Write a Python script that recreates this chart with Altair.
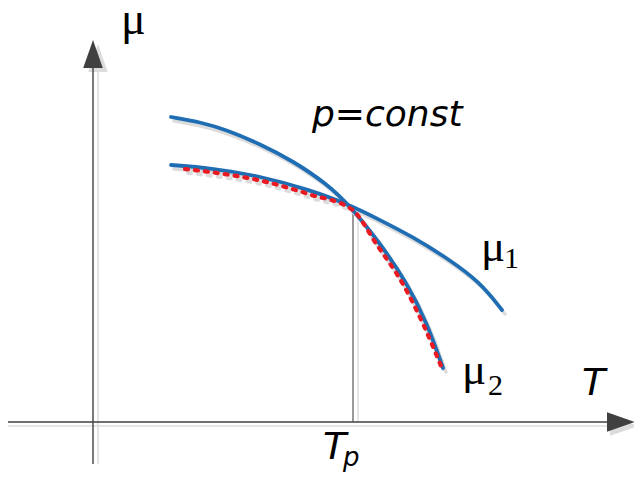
import altair as alt
import pandas as pd

# Schematic: chemical potential mu vs temperature T at constant pressure
# Coordinates in diagram units (origin at axis crossing)
mu2_T = [78, 107, 134, 167, 200, 234, 257, 287, 314, 334, 350]
mu2_v = [305, 300, 292, 278, 261, 238, 216, 179, 139, 99, 54]

mu1_T = [78, 117, 167, 217, 257, 287, 320, 354, 387, 409]
mu1_v = [257, 254, 246, 232, 217, 202, 185, 164, 140, 112]

env_T = [92, 117, 167, 217, 259, 284, 311, 331, 348]
env_v = [253, 250, 241.5, 227.5, 212.5, 177, 136, 96, 56]

Tp = 260
Tp_mu = 216

labels_text = ["μ", "p=const", "T"]
labels_T = [28, 219, 489]
labels_v = [388, 296, 27]
labels_font = ["Liberation Serif", "DejaVu Sans", "DejaVu Sans"]
labels_style = ["normal", "italic", "italic"]
labels_size = [46, 36, 38]

xs = alt.Scale(domain=[-85, 541])
ys = alt.Scale(domain=[-50, 414])

BLUE = "#1f6db3"
SHADOW = "#dcdcdc"
AXIS = "#404040"


def curve(T, v, color, width, interp, dash=None, dx=0, dy=0):
    df = pd.DataFrame({"T": T, "v": v, "i": range(len(T))})
    kw = dict(color=color, strokeWidth=width, interpolate=interp, strokeCap="round")
    if dash:
        kw["strokeDash"] = dash
    return alt.Chart(df).mark_line(**kw).transform_calculate(
        Tx=f"datum.T + {dx}", vy=f"datum.v - {dy}"
    ).encode(
        x=alt.X("Tx:Q", scale=xs, axis=None),
        y=alt.Y("vy:Q", scale=ys, axis=None),
        order="i:O",
    )


def rule(x, x2, y, y2, color, width):
    df = pd.DataFrame({"x": [x], "x2": [x2], "y": [y], "y2": [y2]})
    return alt.Chart(df).mark_rule(color=color, strokeWidth=width).encode(
        x=alt.X("x:Q", scale=xs, axis=None), x2="x2:Q",
        y=alt.Y("y:Q", scale=ys, axis=None), y2="y2:Q",
    )


def arrow(x, y, shape, color):
    df = pd.DataFrame({"x": [x], "y": [y]})
    return alt.Chart(df).mark_point(
        shape=shape, filled=True, size=784, color=color, opacity=1, strokeWidth=0
    ).encode(
        x=alt.X("x:Q", scale=xs, axis=None),
        y=alt.Y("y:Q", scale=ys, axis=None),
    )


def text(t, x, y, font, style, size, color="black"):
    df = pd.DataFrame({"x": [x], "y": [y], "t": [t]})
    return alt.Chart(df).mark_text(
        align="left", baseline="alphabetic", font=font, fontStyle=style,
        fontSize=size, color=color
    ).encode(
        x=alt.X("x:Q", scale=xs, axis=None),
        y=alt.Y("y:Q", scale=ys, axis=None),
        text="t:N",
    )


UP = "M0,-1L0.7,1L-0.7,1Z"
RIGHT = "M1,0L-1,0.7L-1,-0.7Z"

layers = [
    # shadows of axes
    rule(5, 5, -42, 354, SHADOW, 1.6),
    rule(-89, 515, -4, -4, SHADOW, 1.6),
    arrow(5, 364, UP, SHADOW),
    arrow(531, -4, RIGHT, SHADOW),
    rule(Tp + 5, Tp + 5, 0, Tp_mu - 4, SHADOW, 1.4),
    # axes
    rule(0, 0, -42, 354, AXIS, 1.4),
    rule(-89, 515, 0, 0, AXIS, 1.4),
    arrow(0, 368, UP, AXIS),
    arrow(528, 0, RIGHT, AXIS),
    rule(Tp, Tp, 0, Tp_mu, "#555555", 1.2),
    # curve shadows
    curve(mu2_T, mu2_v, SHADOW, 3.5, "basis", dx=3, dy=4),
    curve(mu1_T, mu1_v, SHADOW, 3.5, "basis", dx=3, dy=4),
    curve(env_T, env_v, SHADOW, 4, "monotone", dash=[3, 7], dx=3, dy=4),
    # curves
    curve(mu2_T, mu2_v, BLUE, 3.8, "basis"),
    curve(mu1_T, mu1_v, BLUE, 3.8, "basis"),
    curve(env_T, env_v, "#ea1a22", 4.2, "monotone", dash=[3, 7]),
]

for t, x, y, f, s, z in zip(labels_text, labels_T, labels_v, labels_font, labels_style, labels_size):
    layers.append(text(t, x, y, f, s, z))

# subscripted labels
layers += [
    text("μ", 388, 161, "Liberation Serif", "normal", 45),
    text("1", 411, 154, "Liberation Serif", "normal", 30),
    text("μ", 369, 38, "Liberation Serif", "normal", 45),
    text("2", 395, 27, "Liberation Serif", "normal", 30),
    text("T", 230, -37, "DejaVu Sans", "italic", 38),
    text("p", 250, -44, "DejaVu Sans", "italic", 26),
]

chart = alt.layer(*layers).properties(
    width=626, height=464, padding=0, autosize=alt.AutoSizeParams(type="none")
).configure_view(stroke=None)

chart.save("out.html", embed_options={"renderer": "svg", "actions": False})
